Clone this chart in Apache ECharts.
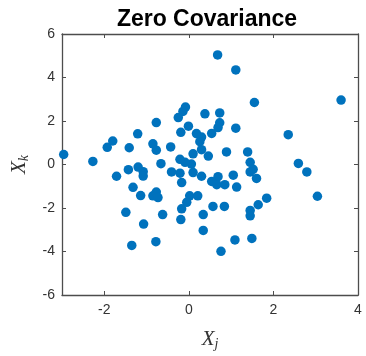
<!DOCTYPE html>
<html>
<head>
<meta charset="utf-8">
<script src="https://cdn.jsdelivr.net/npm/echarts@6/dist/echarts.min.js"></script>
<style>
  html, body { margin: 0; padding: 0; background: #fff; }
  #chart { width: 366px; height: 356px; }
</style>
</head>
<body>
<div id="chart"></div>
<script>
// values
var xs = [-2.96, -2.27, -1.93, -1.80, -1.41, -1.21, -0.77, -0.85, -0.77, -0.43,
          -0.25, -0.14, -0.08, -0.01, -0.19, 0.18, 0.38, 0.73, 0.73, 0.69,
          0.54, 0.30, 0.26, 0.30, 0.46, 1.11, 0.68, 1.11, 1.55, 3.60,
          2.35, 0.89, 1.39, 1.45, 2.59, 2.79, 1.52, 1.45, 1.60, 1.05,
          0.69, 0.66, 0.85, 1.13, 0.54, 0.30, 0.10, 0.06, -0.09, -0.21,
          0.10, -0.66, -0.41, -0.21, -0.17, -1.08, -1.08, -1.20, -1.43, -1.71,
          -1.32, -1.14, -0.85, -0.77, -0.73, -1.49, -1.07, -0.62, -1.35, -0.78,
          0.02, 0.21, -0.05, -0.17, -0.19, 0.57, 0.84, 0.34, 0.34, 0.76,
          1.09, 1.49, 1.45, 1.45, 1.64, 1.84, 3.04];
var ys = [0.46, 0.14, 0.79, 1.08, 0.77, 1.41, 1.93, 0.95, 0.66, 0.81,
          2.16, 2.44, 2.64, 1.76, 1.48, 1.42, 2.33, 2.37, 1.92, 1.70,
          1.43, 1.26, 1.05, 0.68, 0.39, 1.67, 5.04, 4.35, 2.85, 2.96,
          1.37, 0.58, 0.58, 0.10, 0.05, -0.34, -0.22, -0.34, -0.64, -0.49,
          -0.56, -0.93, -0.93, -1.04, -0.78, -0.54, -0.37, 0.02, 0.10, 0.24,
          0.49, 0.04, -0.34, -0.40, -0.83, -0.33, -0.53, -0.12, -0.24, -0.54,
          -1.05, -1.43, -1.44, -1.27, -1.52, -2.20, -2.74, -2.30, -3.72, -3.55,
          -1.44, -1.44, -1.74, -2.04, -2.53, -1.93, -1.93, -2.30, -3.03, -3.99,
          -3.47, -3.40, -2.11, -2.36, -1.85, -1.55, -1.46];
var xTicks = [-2, 0, 2, 4];
var titleText = 'Zero Covariance';

var chart = echarts.init(document.getElementById('chart'));

var points = xs.map(function (x, i) { return [x, ys[i]]; });

var axisColor = '#4d4d4d',
    labelFont = 'Liberation Sans';

var nameRich = {
    x: {fontFamily: 'Liberation Serif', fontStyle: 'italic', fontSize: 21, color: '#333'},
    s: {fontFamily: 'Liberation Serif', fontStyle: 'italic', fontSize: 14, color: '#333',
        padding: [10, 0, 0, 0]}
};

function xAxis(pos, showLabel) {
    return {
        type: 'value', position: pos, min: -3, max: 4,
        splitLine: {show: false},
        axisLine: {onZero: false, lineStyle: {color: axisColor, width: 1.3}},
        axisTick: {inside: true, length: 4, customValues: xTicks, lineStyle: {color: axisColor}},
        axisLabel: {show: showLabel, customValues: xTicks, margin: 8, color: '#333',
                    fontFamily: labelFont, fontSize: 14},
        name: showLabel ? '{x|X}{s|j}' : '',
        nameLocation: 'middle', nameGap: 32,
        nameTextStyle: {rich: nameRich}
    };
}

function yAxis(pos, showLabel) {
    return {
        type: 'value', position: pos, min: -6, max: 6, interval: 2,
        splitLine: {show: false},
        axisLine: {onZero: false, lineStyle: {color: axisColor, width: 1.3}},
        axisTick: {inside: true, length: 4, lineStyle: {color: axisColor}},
        axisLabel: {show: showLabel, margin: 7, color: '#333',
                    fontFamily: labelFont, fontSize: 14},
        name: showLabel ? '{x|X}{s|k}' : '',
        nameLocation: 'middle', nameGap: 24,
        nameTextStyle: {rich: nameRich}
    };
}

chart.setOption({
    animation: false,
    title: {
        text: titleText, left: 202, top: 3, textAlign: 'center',
        textStyle: {fontFamily: labelFont, fontWeight: 'bold', fontSize: 23, color: '#000'}
    },
    grid: {left: 62, right: 8, top: 34, bottom: 49},
    xAxis: [xAxis('bottom', true), xAxis('top', false)],
    yAxis: [yAxis('left', true), yAxis('right', false)],
    series: [{
        type: 'scatter',
        data: points,
        symbolSize: 9.5,
        itemStyle: {color: '#0072BD', opacity: 1}
    }]
});
</script>
</body>
</html>
